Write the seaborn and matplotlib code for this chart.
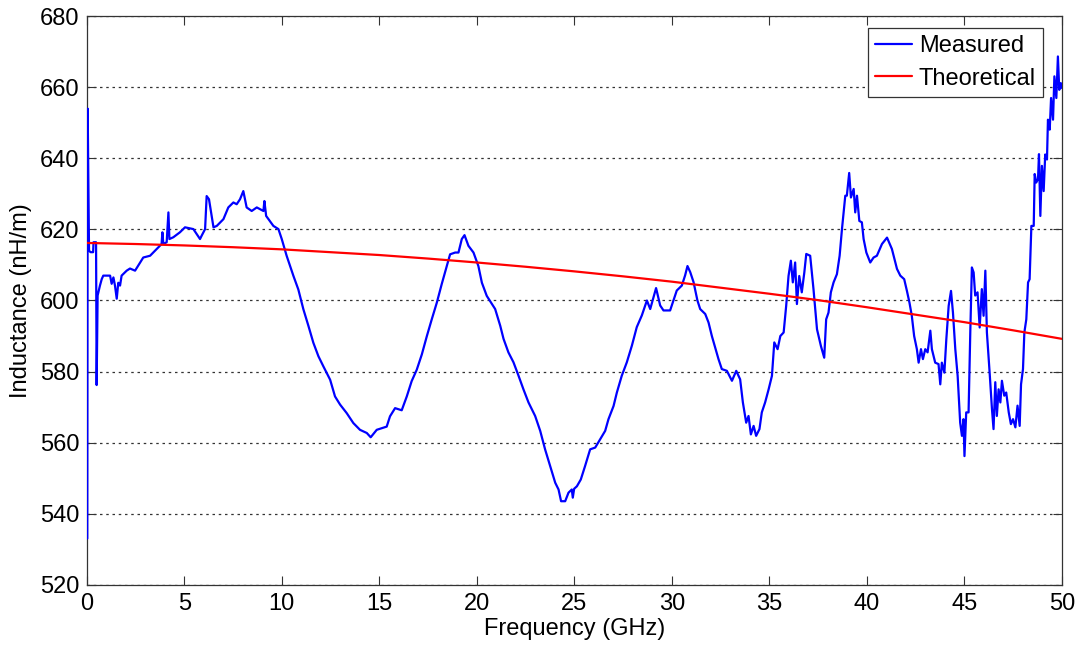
import matplotlib
matplotlib.use("Agg")
import matplotlib.pyplot as plt
import seaborn as sns
import pandas as pd

# Measured inductance per unit length (nH/m) versus frequency (GHz)
meas_freq = [
    0.03, 0.05, 0.09, 0.12, 0.2, 0.33, 0.35, 0.48, 0.51, 0.56, 0.68, 0.77, 0.85, 1.2, 1.28,
    1.37, 1.45, 1.54, 1.62, 1.71, 1.79, 2.05, 2.22, 2.48, 2.9, 3.25, 3.59, 3.84, 3.88, 3.93,
    4.1, 4.19, 4.24, 4.44, 4.78, 5.04, 5.47, 5.81, 5.89, 6.07, 6.15, 6.27, 6.5, 6.67, 7.01,
    7.26, 7.52, 7.69, 7.86, 8.03, 8.2, 8.46, 8.72, 8.89, 9.06, 9.11, 9.2, 9.57, 9.83, 10.0,
    10.25, 10.6, 10.85, 11.11, 11.37, 11.62, 11.88, 12.13, 12.48, 12.73, 12.99, 13.33, 13.67,
    14.01, 14.36, 14.56, 14.87, 15.38, 15.55, 15.81, 16.15, 16.41, 16.66, 16.92, 17.18, 17.44,
    17.69, 17.95, 18.2, 18.46, 18.63, 18.89, 19.06, 19.23, 19.37, 19.57, 19.83, 20.08, 20.26,
    20.51, 20.94, 21.2, 21.37, 21.62, 21.88, 22.14, 22.39, 22.65, 22.99, 23.25, 23.5, 23.76,
    24.02, 24.19, 24.32, 24.53, 24.7, 24.87, 24.92, 24.99, 25.13, 25.33, 25.55, 25.81, 26.07,
    26.32, 26.58, 26.75, 27.01, 27.18, 27.43, 27.69, 27.95, 28.2, 28.46, 28.72, 28.89, 29.06,
    29.19, 29.4, 29.57, 29.91, 30.08, 30.25, 30.51, 30.68, 30.8, 30.94, 31.11, 31.31, 31.45,
    31.71, 31.88, 32.05, 32.22, 32.39, 32.56, 32.82, 33.08, 33.3, 33.5, 33.64, 33.81, 33.93,
    34.05, 34.19, 34.32, 34.49, 34.61, 34.78, 34.96, 35.13, 35.25, 35.42, 35.56, 35.73, 35.86,
    35.98, 36.1, 36.2, 36.32, 36.41, 36.53, 36.66, 36.79, 36.89, 37.09, 37.26, 37.44, 37.64,
    37.81, 37.91, 38.03, 38.15, 38.29, 38.46, 38.6, 38.72, 38.89, 38.97, 39.09, 39.18, 39.32,
    39.4, 39.49, 39.61, 39.74, 39.83, 39.97, 40.17, 40.34, 40.51, 40.77, 41.03, 41.28, 41.54,
    41.71, 41.91, 42.05, 42.18, 42.3, 42.42, 42.56, 42.65, 42.77, 42.87, 42.99, 43.11, 43.25,
    43.33, 43.5, 43.67, 43.76, 43.84, 43.97, 44.07, 44.19, 44.31, 44.41, 44.53, 44.65, 44.78,
    44.87, 44.95, 45.0, 45.09, 45.21, 45.3, 45.38, 45.47, 45.55, 45.67, 45.78, 45.89, 45.98,
    46.07, 46.15, 46.29, 46.41, 46.49, 46.58, 46.66, 46.75, 46.84, 46.92, 47.04, 47.14, 47.27,
    47.38, 47.49, 47.61, 47.72, 47.83, 47.9, 48.0, 48.07, 48.17, 48.26, 48.34, 48.43, 48.55,
    48.6, 48.68, 48.77, 48.82, 48.89, 48.97, 49.06, 49.14, 49.23, 49.28, 49.37, 49.44, 49.54,
    49.61, 49.71, 49.79, 49.86, 49.94, 50.0,
]
meas_ind = [
    533.0, 654.0, 631.0, 614.0, 613.6, 613.6, 616.4, 616.4, 576.2, 601.4, 604.2, 606.0, 607.0,
    607.0, 604.7, 606.5, 604.2, 600.5, 605.0, 604.2, 607.0, 608.4, 609.0, 608.4, 612.1, 612.6,
    614.5, 615.9, 619.2, 615.9, 616.4, 624.8, 617.3, 617.8, 619.2, 620.6, 620.1, 617.3, 618.2,
    620.1, 629.4, 628.5, 620.6, 621.0, 622.9, 626.2, 627.6, 627.1, 628.5, 630.8, 626.2, 625.2,
    626.2, 625.7, 625.2, 628.0, 623.8, 621.0, 620.1, 617.3,
    612.6, 606.9, 603.1, 597.5, 592.8, 588.1, 584.3, 581.5, 577.7, 573.0, 570.7, 568.3, 565.5,
    563.6, 562.7, 561.5, 563.6, 564.5, 567.4, 569.7, 569.1, 573.0, 577.3, 580.5, 584.8, 590.0,
    594.7, 599.4, 604.6, 609.7, 613.0, 613.5, 613.5, 617.3, 618.4, 615.4, 613.5, 609.7, 605.0,
    601.3, 597.6, 592.9, 589.2, 585.4, 582.6, 578.8, 575.0, 571.3, 567.5, 563.3, 558.1, 553.4,
    548.7, 546.8, 543.5, 543.5, 545.9, 546.8, 544.5, 547.0, 547.7, 549.6, 553.4, 558.1, 558.6,
    560.9, 563.3, 566.6, 570.3, 574.1, 578.8, 582.6, 587.3, 592.5, 595.8, 600.0, 597.6, 601.0,
    603.5, 598.6, 597.2, 597.2, 600.0, 602.8, 604.2, 607.1, 609.7, 608.0, 605.2, 600.0, 597.6,
    596.2, 593.8, 590.0, 586.8, 583.5, 580.7, 580.2, 577.4, 580.2, 577.8, 571.3, 565.6, 567.5,
    562.3, 564.7, 561.9, 563.8, 568.5, 571.3, 575.0, 578.8, 588.2, 586.3, 590.0, 591.0, 598.5,
    606.9, 611.2, 605.1, 610.7, 599.0, 606.9, 602.3, 607.9, 613.1, 612.6, 603.2, 591.9, 587.2,
    583.9, 594.7, 596.6, 602.3, 605.1, 607.4, 612.6, 620.1, 629.5, 629.5, 635.9, 629.0, 631.4,
    624.8, 629.5, 622.4, 622.0, 617.3, 613.5, 610.7, 612.1, 612.6, 615.9, 617.7, 614.5, 608.9,
    607.0, 606.0, 602.7, 599.4, 595.7, 590.0, 586.3, 582.5, 586.3, 583.5, 586.3, 585.4, 591.5,
    586.3, 582.5, 582.1, 576.4, 582.5, 579.7, 589.1, 598.5, 602.7, 596.6, 586.3, 578.8, 565.6,
    561.9, 566.6, 556.2, 568.5, 568.5, 591.5, 609.3, 607.9, 601.4, 602.3, 592.4, 603.2, 595.7,
    608.4, 591.0, 579.7, 569.4, 563.8, 577.0, 567.5, 575.0, 571.3, 577.4, 573.2, 574.1, 568.5,
    565.2, 566.6, 564.3, 570.4, 564.7, 576.4, 580.7, 591.0, 594.7, 605.1, 606.0, 621.0, 621.0,
    635.6, 633.2, 634.2, 641.2, 623.8, 637.9, 630.8, 641.1, 639.7, 650.9, 648.1, 657.0, 650.9,
    663.1, 657.0, 668.7, 659.3, 661.2, 659.8,
]

# Theoretical inductance curve
theo_freq = [0, 2.5, 5, 7.5, 10, 12.5, 15, 17.5, 20, 22.5, 25, 27.5, 30, 32.5, 35, 37.5,
             40, 42.5, 45, 47.5, 50]
theo_ind = [616.2, 615.9, 615.5, 615.0, 614.4, 613.6, 612.8, 611.8, 610.7, 609.5, 608.2,
            606.8, 605.3, 603.6, 601.9, 600.1, 598.1, 596.0, 593.9, 591.6, 589.2]

x_ticks = [0, 5, 10, 15, 20, 25, 30, 35, 40, 45, 50]
y_ticks = [520, 540, 560, 580, 600, 620, 640, 660, 680]

sns.set_theme(style="ticks")
plt.rcParams["font.family"] = ["Liberation Sans", "DejaVu Sans"]
plt.rcParams["text.color"] = "#000000"
plt.rcParams["axes.labelcolor"] = "#000000"

measured = pd.DataFrame({"freq": meas_freq, "ind": meas_ind})
theoretical = pd.DataFrame({"freq": theo_freq, "ind": theo_ind})

fig = plt.figure(figsize=(10.85, 6.47), dpi=100)
ax = fig.add_axes([0.0799, 0.0963, 0.8989, 0.8785])

sns.lineplot(data=measured, x="freq", y="ind", ax=ax, color="#0000ff", linewidth=1.6,
             sort=False, estimator=None, label="Measured", zorder=3)
sns.lineplot(data=theoretical, x="freq", y="ind", ax=ax, color="#ff0000", linewidth=1.6,
             sort=False, estimator=None, label="Theoretical", zorder=3)

ax.set_xlim(0, 50)
ax.set_ylim(520, 680)
ax.set_xticks(x_ticks)
ax.set_yticks(y_ticks)
ax.tick_params(direction="in", length=6.5, width=0.8, top=True, right=True,
               labelsize=17, colors="#333333", labelcolor="#000000")
ax.tick_params(axis="x", pad=6)
ax.tick_params(axis="y", pad=5)
for side in ax.spines.values():
    side.set_visible(True)
    side.set_color("#333333")
    side.set_linewidth(0.9)
    side.set_zorder(2)

ax.yaxis.grid(True, linestyle=(0, (2, 3)), color="#333333", linewidth=0.9)
ax.xaxis.grid(False)
ax.set_axisbelow(True)

ax.set_xlabel("Frequency (GHz)", fontsize=17, labelpad=2)
ax.set_ylabel("Inductance (nH/m)", fontsize=17, labelpad=6)

leg = ax.legend(loc="upper right", bbox_to_anchor=(0.9805, 0.9794), borderaxespad=0,
                fontsize=17, frameon=True, fancybox=False, edgecolor="#333333",
                framealpha=1, borderpad=0.3, handlelength=1.55, handletextpad=0.3,
                labelspacing=0.45)
leg.get_frame().set_linewidth(0.9)

fig.savefig("out.png", dpi=100, facecolor="white")
